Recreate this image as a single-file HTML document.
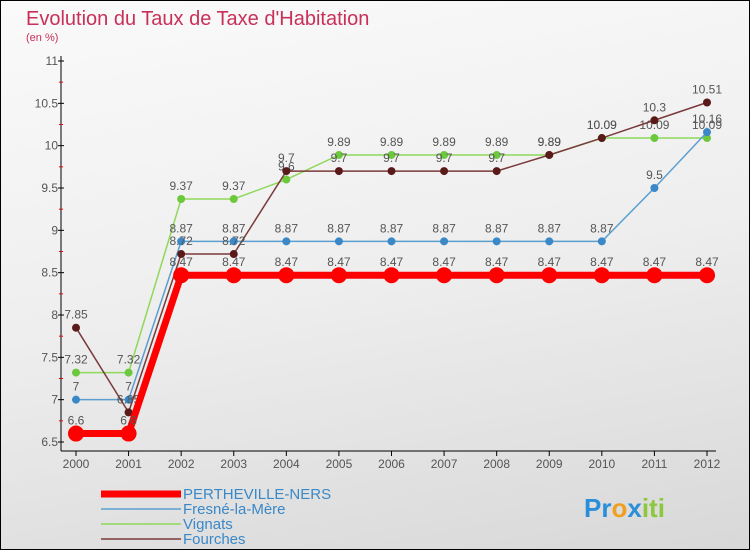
<!DOCTYPE html>
<html><head><meta charset="utf-8"><style>
body{margin:0}
#wrap{position:relative;width:748px;height:548px;border:1px solid #000;background:linear-gradient(170deg,#fafafa 0%,#eeeeee 50%,#d8d8d8 100%);font-family:"Liberation Sans",sans-serif;overflow:hidden}
</style></head><body>
<div id="wrap">
<svg id="chart" width="748" height="548" font-family="Liberation Sans, sans-serif">
<text x="25" y="24" font-size="20" fill="#c8305a" font-weight="300">Evolution du Taux de Taxe d'Habitation</text>
<text x="25" y="40" font-size="11" fill="#c8305a">(en %)</text>
<g id="axes"></g><g id="series"></g><g id="legend"></g>
<text x="583" y="516" font-size="26" font-weight="bold"><tspan fill="#2a8fd8">Pr</tspan><tspan fill="#f0a020">o</tspan><tspan fill="#2a8fd8">x</tspan><tspan fill="#8cc83c">iti</tspan></text>
</svg>
</div>
<script>
const years=[2000,2001,2002,2003,2004,2005,2006,2007,2008,2009,2010,2011,2012];
const yTicks=[6.5,7,7.5,8,8.5,9,9.5,10,10.5,11];
const seriesNames=["PERTHEVILLE-NERS","Fresné-la-Mère","Vignats","Fourches"];
const pertheville=[6.6,6.6,8.47,8.47,8.47,8.47,8.47,8.47,8.47,8.47,8.47,8.47,8.47];
const fresne=[7,7,8.87,8.87,8.87,8.87,8.87,8.87,8.87,8.87,8.87,9.5,10.16];
const vignats=[7.32,7.32,9.37,9.37,9.6,9.89,9.89,9.89,9.89,9.89,10.09,10.09,10.09];
const fourches=[7.85,6.85,8.72,8.72,9.7,9.7,9.7,9.7,9.7,9.89,10.09,10.3,10.51];
const NS="http://www.w3.org/2000/svg";
const xS=i=>75+i*(706-75)/(years.length-1);
const yS=v=>441-(v-6.5)*(441-60)/4.5;
function mk(t,a,p){const e=document.createElementNS(NS,t);for(const k in a)e.setAttribute(k,a[k]);p.appendChild(e);return e;}
const ax=document.getElementById('axes');
let l=mk('line',{x1:60,y1:55,x2:60,y2:450,stroke:'#000'},ax);


l=mk('line',{x1:60,y1:450,x2:715,y2:450,stroke:'#000'},ax);


yTicks.forEach((v,i)=>{
 mk('line',{x1:57,y1:yS(v),x2:63,y2:yS(v),stroke:'#000'},ax);
 if(i<yTicks.length-1)mk('line',{x1:58,y1:yS(v+0.25),x2:62,y2:yS(v+0.25),stroke:'#e00'},ax);
 const t=mk('text',{x:57,y:yS(v)+4,'font-size':12,'text-anchor':'end',fill:'#555'},ax);
 t.textContent=String(v);
 
 
});
years.forEach((y,i)=>{
 mk('line',{x1:xS(i),y1:450,x2:xS(i),y2:455,stroke:'#000'},ax);
 const t=mk('text',{x:xS(i),y:467,'font-size':12,'text-anchor':'middle',fill:'#555'},ax);
 t.textContent=String(y);
 
 
});
const sg=document.getElementById('series');
const defs=[[vignats,'#8ed85a','#6cc83c',1.5,4,'vignats'],[fresne,'#5a9fd0','#3a88c8',1.5,4,'fresne-la-mere'],[fourches,'#7a3a3a','#5a1a1a',1.5,4,'fourches'],[pertheville,'#ff0000','#ff0000',7,8,'pertheville-ners']];
defs.forEach(([d,c,dc,w,r,n])=>{
 const g=mk('g',{},sg);
 
 
 const p=mk('polyline',{points:d.map((v,i)=>xS(i)+','+yS(v)).join(' '),fill:'none',stroke:c,'stroke-width':w},g);
 
 
 d.forEach((v,i)=>{
  const ci=mk('circle',{cx:xS(i),cy:yS(v),r:r,fill:dc},g);
  
  
  const t=mk('text',{x:xS(i),y:yS(v)-9,'font-size':12,'text-anchor':'middle',fill:'#555'},g);
  t.textContent=String(v);
  
  
 });
});
const lg=document.getElementById('legend');
const lc=['#ff0000','#5a9fd0','#8ed85a','#7a3a3a'],lw=[7,1.5,1.5,1.5];
seriesNames.forEach((n,i)=>{
 const y=493+i*15;
 const g=mk('g',{},lg);
 
 
 mk('line',{x1:100,y1:y,x2:180,y2:y,stroke:lc[i],'stroke-width':lw[i]},g);
 const t=mk('text',{x:182,y:y+5,'font-size':15,fill:'#3a88c8'},g);
 t.textContent=n;
 
 
});
</script>
</body></html>
